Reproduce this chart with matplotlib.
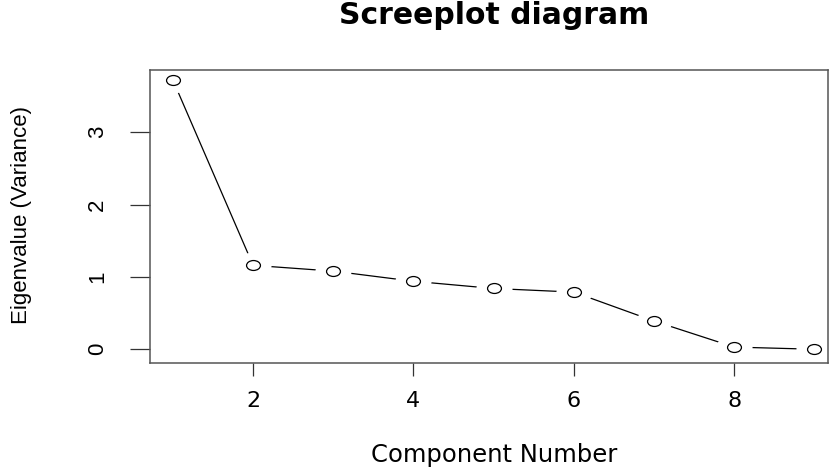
import numpy as np
import matplotlib.pyplot as plt
from matplotlib.path import Path
from matplotlib.transforms import Affine2D

components = [1, 2, 3, 4, 5, 6, 7, 8, 9]
eigenvalues = [3.72, 1.16, 1.08, 0.94, 0.84, 0.79, 0.39, 0.03, 0.0]
x_ticks = [2, 4, 6, 8]
y_ticks = [0, 1, 2, 3]

plt.rcParams['font.family'] = ['Liberation Sans', 'DejaVu Sans']
wide = ['DejaVu Sans']  # the reference text is stretched sideways

W, H = 831, 469
fig = plt.figure(figsize=(W / 100, H / 100), dpi=100)
ax = fig.add_axes([150 / W, 1 - 363 / H, (828 - 150) / W, (363 - 70) / H])

# circles look like ellipses in the reference
ellipse = Path.unit_circle().transformed(Affine2D().scale(1.4, 1.0))

# R type="b": line with gaps around each point
ax.plot(components, eigenvalues, color='black', lw=0.9, zorder=1)
ax.plot(components, eigenvalues, ls='none', marker=ellipse, ms=26,
        mfc='white', mec='none', zorder=1.5)
ax.plot(components, eigenvalues, ls='none', marker=ellipse, ms=10,
        mfc='white', mec='black', mew=0.9, zorder=2)

ax.set_xlim(0.714, 9.17)
ax.set_ylim(-0.19, 3.86)
ax.set_xticks(x_ticks)
ax.set_xticklabels([str(v) for v in x_ticks], family=wide)
ax.set_yticks(y_ticks)
ax.set_yticklabels([str(v) for v in y_ticks], rotation=90, va='center')

ax.tick_params(axis='x', length=9.4, width=0.9, pad=11, labelsize=16, color='#333333')
ax.tick_params(axis='y', length=14.4, width=0.9, pad=16, labelsize=16, color='#333333')
for s in ax.spines.values():
    s.set_color('#555555')
    s.set_linewidth(1.1)

fig.text(494 / W, 1 - 16 / H, 'Screeplot diagram', ha='center', va='center',
         fontsize=21.5, fontweight='bold', family=wide)
fig.text(494 / W, 1 - 455 / H, 'Component Number', ha='center', va='center',
         fontsize=17.5, family=wide)
fig.text(22 / W, 1 - 215 / H, 'Eigenvalue (Variance)', ha='center', va='center',
         rotation=90, fontsize=16)

fig.savefig('out.png', dpi=100)
